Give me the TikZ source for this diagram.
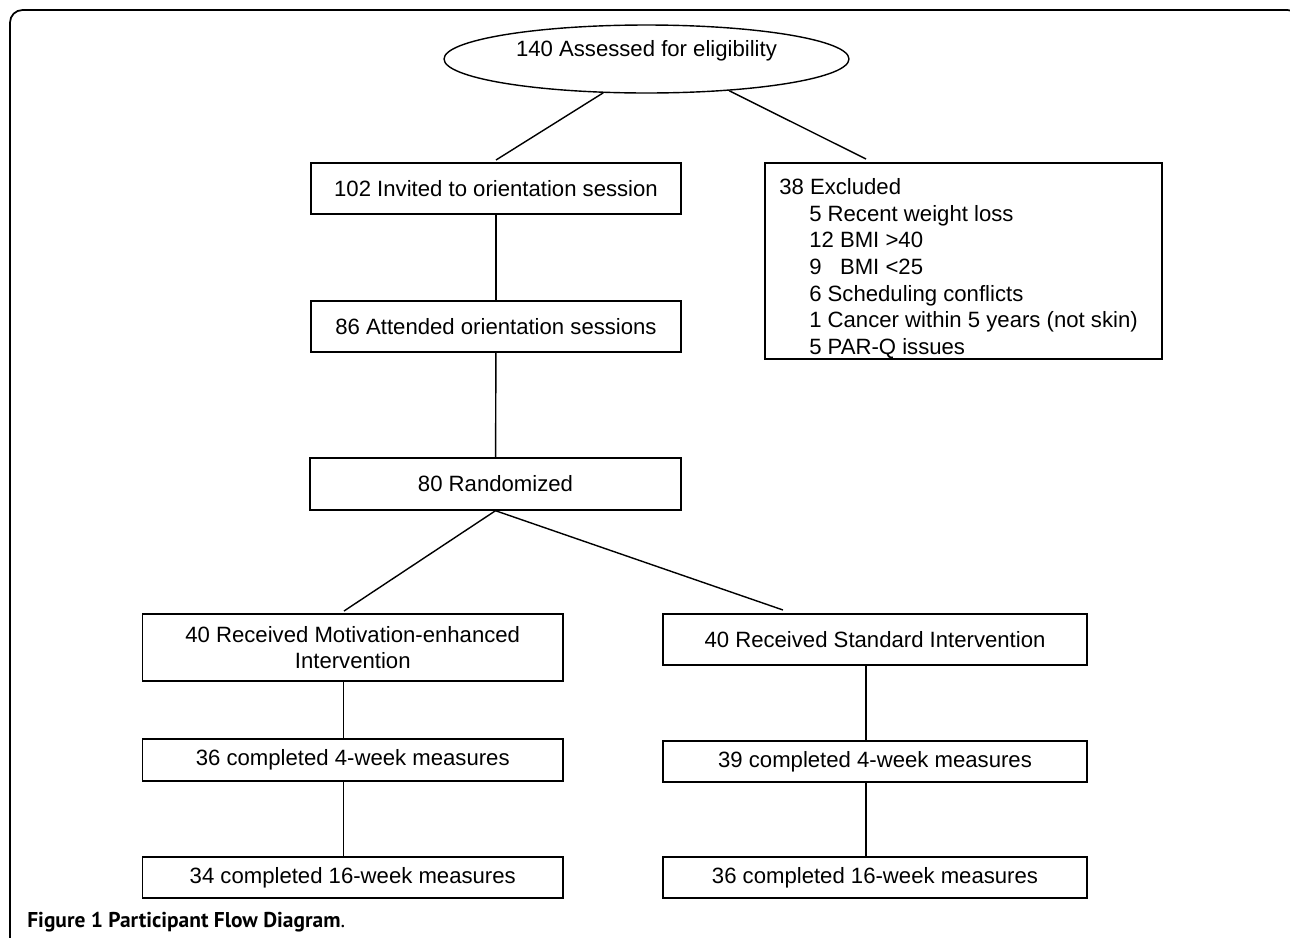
\documentclass[tikz,border=0pt]{standalone}
\usepackage{fontspec}
\setmainfont{Liberation Sans}
\newfontfamily\capfont{PT Sans}
\usetikzlibrary{shapes.geometric}

\tikzset{
  box/.style={draw, rectangle, line width=0.8pt, inner sep=0pt, align=center, font=\fontsize{12.6}{15.2}\selectfont},
  link/.style={line width=0.8pt},
}

\begin{document}
\begin{tikzpicture}[x=0.02cm, y=-0.02cm]
\useasboundingbox (0,0) rectangle (1290,937);
\clip (0,0) rectangle (1290,937);
\draw[line width=1pt, rounded corners=0.25cm] (10,10) rectangle (1300,970);

\node[ellipse, draw, line width=0.8pt, inner sep=0pt, minimum width=8.1cm, minimum height=1.36cm, font=\fontsize{12.6}{15.2}\selectfont] at (646.5,59) (ell) {\raisebox{0.44cm}{140 Assessed for eligibility}};
\node[box, minimum width=7.4cm, minimum height=1.02cm] at (496,188.5) (inv) {102 Invited to orientation session};
\node[box, minimum width=7.94cm, minimum height=3.92cm, align=left] at (963.5,261) (excl) {\rule{0pt}{0.62cm}38 Excluded\\
\hspace*{0.6cm}5 Recent weight loss\\
\hspace*{0.6cm}12 BMI >40\\
\hspace*{0.6cm}9\ \ \ BMI <25\\
\hspace*{0.6cm}6 Scheduling conflicts\\
\hspace*{0.6cm}1 Cancer within 5 years (not skin)\rule{0.2cm}{0pt}\\
\hspace*{0.6cm}5 PAR-Q issues};
\node[box, minimum width=7.4cm, minimum height=1.02cm] at (496,326.5) (att) {86 Attended orientation sessions};
\node[box, minimum width=7.42cm, minimum height=1.04cm] at (495.5,484) (rnd) {80 Randomized};
\node[box, minimum width=8.41cm, minimum height=1.34cm] at (352.75,647.5) (mot) {40 Received Motivation-enhanced\\Intervention};
\node[box, minimum width=8.48cm, minimum height=1.02cm] at (875,639.5) (std) {40 Received Standard Intervention};
\node[box, minimum width=8.41cm, minimum height=0.84cm] at (352.75,760) (mfour) {36 completed 4-week measures};
\node[box, minimum width=8.48cm, minimum height=0.82cm] at (875,761.5) (sfour) {39 completed 4-week measures};
\node[box, minimum width=8.41cm, minimum height=0.82cm] at (352.75,877.5) (msixteen) {34 completed 16-week measures};
\node[box, minimum width=8.48cm, minimum height=0.82cm] at (875,877.5) (ssixteen) {36 completed 16-week measures};
\node[anchor=base west, inner sep=0pt, font=\capfont\fontsize{12.2}{14}\selectfont] at (27,927) (cap) {\textbf{Figure 1 Participant Flow Diagram}.};

\coordinate (invT) at (496,160);
\coordinate (exT) at (866,159);
\coordinate (motT) at (344,611);
\coordinate (stdT) at (783,610);
\draw[link] (ell.218) -- (invT);
\draw[link] (ell.339) -- (exT);
\draw[link] (inv) -- (att);
\draw[link] (att) -- (rnd);
\draw[link] (rnd.south) -- (motT);
\draw[link] (rnd.south) -- (stdT);
\draw[link] ([xshift=-0.18cm]mot.south) -- ([xshift=-0.18cm]mfour.north);
\draw[link] ([xshift=-0.18cm]mfour.south) -- ([xshift=-0.18cm]msixteen.north);
\draw[link] ([xshift=-0.18cm]std.south) -- ([xshift=-0.18cm]sfour.north);
\draw[link] ([xshift=-0.18cm]sfour.south) -- ([xshift=-0.18cm]ssixteen.north);
\end{tikzpicture}
\end{document}
